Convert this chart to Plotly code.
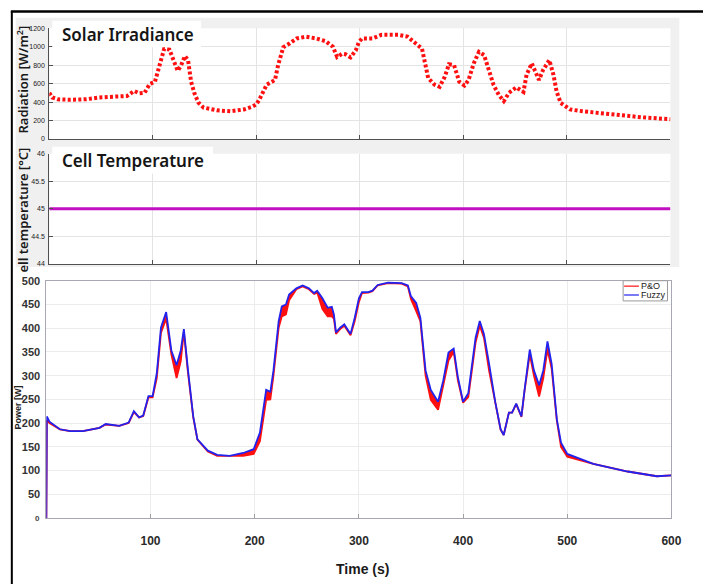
import plotly.graph_objects as go

# ---------------- data ----------------
t_irr = [0, 3, 8, 20, 35, 48, 64, 75, 82, 87, 92, 97, 102, 107, 111, 116, 121, 124, 127, 131,
         134, 137, 140, 144, 149, 162, 175, 188, 196, 200, 203, 207, 210, 215, 218, 221, 224, 226,
         232, 239, 248, 258, 267, 274, 278, 283, 286, 291, 296, 299, 302, 312, 321, 337, 346, 355,
         360, 363, 366, 372, 377, 382, 386, 391, 396, 401, 405, 410, 415, 420, 424, 429, 434, 439,
         444, 451, 458, 461, 466, 469, 473, 477, 483, 487, 490, 494, 503, 515, 541, 572, 600]
irradiance = [500, 450, 430, 425, 430, 449, 460, 465, 520, 495, 500, 597, 618, 820, 980, 970, 820,
              740, 790, 900, 855, 620, 500, 395, 340, 310, 300, 320, 350, 375, 430, 515, 590, 620,
              640, 800, 940, 995, 1035, 1090, 1110, 1090, 1060, 1000, 890, 925, 920, 885, 960, 1050,
              1090, 1090, 1130, 1130, 1110, 1035, 980, 820, 660, 590, 565, 675, 810, 800, 620, 580,
              640, 820, 945, 910, 765, 590, 480, 410, 500, 560, 510, 695, 820, 730, 640, 750, 855,
              695, 515, 390, 320, 300, 267, 235, 214]

t_temp = [0, 600]
cell_temp = [45, 45]

t_pow = [0, 0.5, 3, 13, 23, 35, 51, 57, 70, 76, 79, 84, 89, 93, 98, 102, 106, 110, 115, 120,
         125, 129, 132, 136, 141, 145, 155, 164, 176, 189, 199, 205, 211, 215, 218, 223, 226, 230,
         233, 240, 246, 252, 257, 260, 265, 270, 274, 276, 278, 282, 286, 289, 292, 296, 300, 303,
         309, 313, 318, 328, 341, 347, 350, 355, 359, 364, 369, 376, 381, 386, 391, 395, 400, 405,
         409, 412, 416, 420, 425, 431, 436, 439, 444, 447, 451, 456, 459, 464, 468, 473, 477, 481,
         485, 490, 494, 500, 525, 558, 586, 600]
p_fuzzy = [0, 214, 203, 187, 183, 183, 190, 198, 194, 199, 201, 225, 212, 216, 257, 257, 305, 401,
           434, 353, 322, 353, 398, 311, 214, 166, 142, 133, 131, 137, 145, 180, 270, 266, 311, 415,
           446, 450, 471, 484, 490, 484, 474, 479, 463, 443, 445, 429, 391, 401, 408, 398, 388, 422,
           463, 476, 476, 479, 491, 496, 495, 490, 467, 453, 422, 311, 270, 245, 290, 349, 357, 297,
           245, 263, 332, 380, 415, 388, 325, 243, 187, 175, 222, 222, 241, 214, 270, 355, 311, 280,
           311, 372, 325, 208, 159, 135, 114, 98, 88, 90]
p_po = [0, 206, 200, 187, 183, 183, 190, 197, 194, 198, 200, 223, 212, 215, 254, 254, 295, 390,
        420, 345, 295, 330, 392, 305, 212, 165, 140, 131, 131, 131, 135, 162, 249, 250, 300, 401,
        425, 429, 459, 482, 488, 482, 472, 475, 440, 425, 425, 420, 388, 398, 405, 395, 385, 415,
        455, 474, 475, 478, 490, 495, 494, 488, 461, 436, 415, 300, 249, 228, 280, 332, 350, 290,
        243, 255, 320, 370, 405, 380, 310, 240, 186, 175, 222, 222, 240, 213, 268, 345, 300, 256,
        295, 355, 315, 205, 150, 129, 114, 98, 88, 90]

x_ticks = [100, 200, 300, 400, 500, 600]
irr_ticks = [0, 200, 400, 600, 800, 1000, 1200]
temp_ticks = [44, 44.5, 45, 45.5, 46]
pow_ticks = [50, 100, 150, 200, 250, 300, 350, 400, 450, 500]

# ---------------- layout helpers ----------------
W, H = 713, 587
def fx(x):
    return x / W
def fy(y):
    return 1 - y / H

RED = "#ff1010"
BLUE = "#2222ee"
MAG = "#c010c0"

fig = go.Figure()

fig.add_trace(go.Scatter(x=t_irr, y=irradiance, mode="lines", xaxis="x", yaxis="y",
                         line=dict(color=RED, width=4, dash="3px,2.3px"),
                         showlegend=False, hoverinfo="skip"))
fig.add_trace(go.Scatter(x=t_temp, y=cell_temp, mode="lines", xaxis="x2", yaxis="y2",
                         line=dict(color=MAG, width=3), showlegend=False))
fig.add_trace(go.Scatter(x=t_pow, y=p_fuzzy, mode="lines", xaxis="x3", yaxis="y3",
                         line=dict(color=RED, width=0), showlegend=False, hoverinfo="skip"))
fig.add_trace(go.Scatter(x=t_pow, y=p_po, mode="lines", xaxis="x3", yaxis="y3", name="P&O",
                         line=dict(color=RED, width=1.8), fill="tonexty", fillcolor=RED,
                         showlegend=False))
fig.add_trace(go.Scatter(x=t_pow, y=p_fuzzy, mode="lines", xaxis="x3", yaxis="y3", name="Fuzzy",
                         line=dict(color=BLUE, width=1.8), showlegend=False))

small = dict(family="Liberation Sans", size=7, color="#222222")
dark_axis = dict(showline=True, linecolor="#505050", linewidth=1, ticks="inside", ticklen=4,
                 tickcolor="#505050", showgrid=True, gridcolor="#e4e4e4", zeroline=False)

fig.update_layout(
    width=W, height=H, margin=dict(l=0, r=0, t=0, b=0),
    paper_bgcolor="white", plot_bgcolor="white",
    xaxis=dict(domain=[fx(50), fx(680)], range=[0, 600], anchor="y", tickvals=[0] + x_ticks,
               showticklabels=False, **dark_axis),
    yaxis=dict(domain=[fy(135), fy(22.7)], range=[0, 1200], anchor="x", tickvals=irr_ticks,
               tickfont=small, ticklabelstandoff=2, **dark_axis),
    xaxis2=dict(domain=[fx(50), fx(680)], range=[0, 600], anchor="y2", tickvals=[0] + x_ticks,
                showticklabels=False, **dark_axis),
    yaxis2=dict(domain=[fy(262), fy(150)], range=[44, 46], anchor="x2", tickvals=temp_ticks,
                tickfont=small, ticklabelstandoff=2, **dark_axis),
    xaxis3=dict(domain=[fx(47), fx(681)], range=[0, 600], anchor="y3", tickvals=x_ticks,
                showline=True, linecolor="#a8a8b4", mirror=True, ticks="inside", ticklen=4,
                tickcolor="#a0a0a0", showgrid=True, gridcolor="#ececec", zeroline=False,
                tickfont=dict(family="Liberation Sans", size=12, color="#2a2a2a", weight="bold"),
                ticklabelstandoff=12),
    yaxis3=dict(domain=[fy(520), fy(279)], range=[0, 500], anchor="x3", tickvals=pow_ticks,
                showline=True, linecolor="#a8a8b4", mirror=True, ticks="", showgrid=True,
                gridcolor="#ececec", zeroline=False,
                tickfont=dict(family="Liberation Sans", size=11, color="#333333", weight="bold"),
                ticklabelstandoff=3),
)

shapes = []
# gray panel backgrounds, then white plot areas on top of them
shapes.append(dict(type="rect", xref="paper", yref="paper", x0=fx(16), x1=fx(689), y0=fy(265),
                   y1=fy(12), fillcolor="#f0f0f0", line=dict(width=0), layer="below"))
shapes.append(dict(type="rect", xref="paper", yref="paper", x0=fx(50), x1=fx(680), y0=fy(135),
                   y1=fy(22.7), fillcolor="white", line=dict(width=0), layer="below"))
shapes.append(dict(type="rect", xref="paper", yref="paper", x0=fx(50), x1=fx(680), y0=fy(262),
                   y1=fy(150), fillcolor="white", line=dict(width=0), layer="below"))
# white title boxes
shapes.append(dict(type="rect", xref="paper", yref="paper", x0=fx(53), x1=fx(204), y0=fy(42),
                   y1=fy(15), fillcolor="white", line=dict(width=0), layer="above"))
shapes.append(dict(type="rect", xref="paper", yref="paper", x0=fx(53), x1=fx(216), y0=fy(170),
                   y1=fy(143), fillcolor="white", line=dict(width=0), layer="above"))
# outer black frame
shapes.append(dict(type="line", xref="paper", yref="paper", x0=fx(11), x1=1, y0=fy(5.5), y1=fy(5.5),
                   line=dict(color="black", width=2.5)))
shapes.append(dict(type="line", xref="paper", yref="paper", x0=fx(12), x1=fx(12), y0=0, y1=fy(5),
                   line=dict(color="black", width=2)))
# legend box
shapes.append(dict(type="rect", xref="paper", yref="paper", x0=fx(632), x1=fx(677), y0=fy(299.5),
                   y1=fy(279), fillcolor="white", line=dict(color="#9a9a9a", width=1), layer="above"))
shapes.append(dict(type="line", xref="paper", yref="paper", x0=fx(633), x1=fx(648), y0=fy(284.5),
                   y1=fy(284.5), line=dict(color=RED, width=1.2), layer="above"))
shapes.append(dict(type="line", xref="paper", yref="paper", x0=fx(633), x1=fx(648), y0=fy(293.5),
                   y1=fy(293.5), line=dict(color=BLUE, width=1.2), layer="above"))
fig.update_layout(shapes=shapes)

ann = []
title_font = dict(family="Noto Sans", size=17, color="#151515", weight=600)
ann.append(dict(text="Solar Irradiance", x=fx(61), y=fy(28.5), xref="paper", yref="paper",
                xanchor="left", yanchor="middle", showarrow=False, font=title_font))
ann.append(dict(text="Cell Temperature", x=fx(61), y=fy(157), xref="paper", yref="paper",
                xanchor="left", yanchor="middle", showarrow=False, font=title_font))
ylab_font = dict(family="Noto Sans", size=13, color="#1a1a1a", weight=600)
ann.append(dict(text="Radiation [W/m<sup>2</sup>]", x=fx(23), y=fy(75), xref="paper", yref="paper",
                xanchor="center", yanchor="middle", textangle=-90, showarrow=False, font=ylab_font))
ann.append(dict(text="ell temperature [°C]", x=fx(23), y=fy(207), xref="paper", yref="paper",
                xanchor="center", yanchor="middle", textangle=-90, showarrow=False, font=ylab_font))
ann.append(dict(text="Power [W]", x=fx(18), y=fy(408), xref="paper", yref="paper",
                xanchor="center", yanchor="middle", textangle=-90, showarrow=False,
                font=dict(family="Liberation Sans", size=9, color="#222", weight="bold")))
ann.append(dict(text="0", x=fx(43), y=fy(520), xref="paper", yref="paper", xanchor="right",
                yanchor="middle", showarrow=False,
                font=dict(family="Liberation Sans", size=8, color="#444", weight="bold")))
ann.append(dict(text="Time (s)", x=fx(368), y=fy(572), xref="paper", yref="paper",
                xanchor="center", yanchor="middle", showarrow=False,
                font=dict(family="Liberation Sans", size=14, color="#1a1a1a", weight="bold")))
leg_font = dict(family="Liberation Sans", size=9, color="#222")
ann.append(dict(text="P&amp;O", x=fx(648), y=fy(284.5), xref="paper", yref="paper",
                xanchor="left", yanchor="middle", showarrow=False, font=leg_font))
ann.append(dict(text="Fuzzy", x=fx(648), y=fy(293.5), xref="paper", yref="paper",
                xanchor="left", yanchor="middle", showarrow=False, font=leg_font))
fig.update_layout(annotations=ann)

fig.write_html("out.html", config={"displayModeBar": False},
               post_script="document.body.style.margin='0';document.body.style.overflow='hidden';")
